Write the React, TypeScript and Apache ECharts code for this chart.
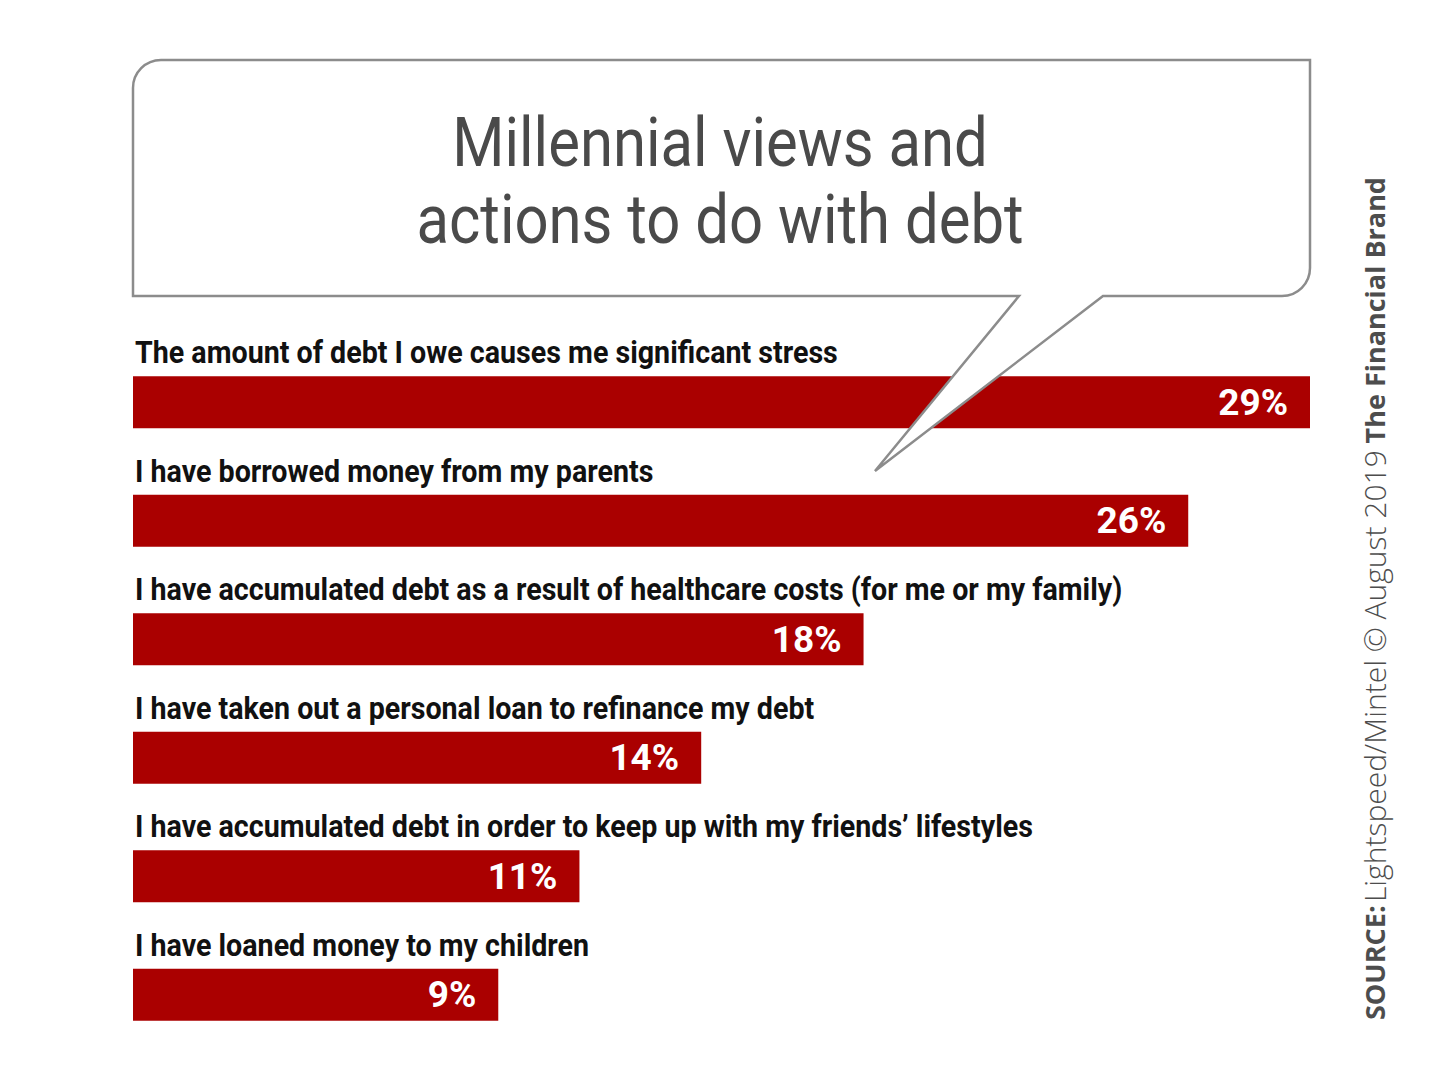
import React, { useEffect, useRef } from "react";
import * as echarts from "echarts";

const categories = [
  "The amount of debt I owe causes me significant stress",
  "I have borrowed money from my parents",
  "I have accumulated debt as a result of healthcare costs (for me or my family)",
  "I have taken out a personal loan to refinance my debt",
  "I have accumulated debt in order to keep up with my friends\u2019 lifestyles",
  "I have loaned money to my children",
];
const values = [29, 26, 18, 14, 11, 9];
const titleLines = ["Millennial views and", "actions to do with debt"];
const sourceBold = "SOURCE:";
const sourceText = "Lightspeed/Mintel \u00A9 August 2019";
const brandText = "The Financial Brand";

const BAR_COLOR = "#aa0000";

function measure(text: string, font: string): number {
  const c = document.createElement("canvas").getContext("2d")!;
  c.font = font;
  return c.measureText(text).width;
}

const bubblePath =
  "M133,296 L133,88 A28,28 0 0 1 161,60 L1310,60 L1310,268 A28,28 0 0 1 1282,296 L1103,296 L875,471 L1019,296 Z";

export default function App() {
  const ref = useRef<HTMLDivElement>(null);
  useEffect(() => {
    if (!ref.current) return;
    try {
      echarts.graphic.registerShape("bubble", echarts.graphic.extendPath(bubblePath, {}) as any);
    } catch (e) {}
    const chart = echarts.init(ref.current, null, { renderer: "svg" });
    chart.setOption({
      animation: false,
      backgroundColor: "#ffffff",
      grid: { left: 133, right: 139, top: 343, bottom: 26, containLabel: false },
      xAxis: { type: "value", min: 0, max: 29, show: false },
      yAxis: { type: "category", data: categories, inverse: true, show: false },
      series: [
        {
          type: "bar",
          data: values,
          barWidth: 52,
          itemStyle: { color: BAR_COLOR },
          label: {
            show: true,
            position: "insideRight",
            distance: 22,
            formatter: "{c}%",
            color: "#ffffff",
            fontFamily: "Roboto",
            fontWeight: "bold",
            fontSize: 37,
          },
        },
      ],
    });

    const labelFont = "bold 32px Roboto";
    const labelScale = 703 / measure(categories[0], labelFont);
    const titleFont = "400 68px Roboto";
    const titleScale = 607 / measure(titleLines[1], titleFont);

    const graphics: any[] = [];
    categories.forEach((c) => {
      const yc = chart.convertToPixel({ yAxisIndex: 0 }, c) as number;
      graphics.push({
        type: "text",
        x: 135,
        y: yc - 50,
        scaleX: labelScale,
        z: 50,
        style: {
          text: c,
          fill: "#111111",
          font: labelFont,
          align: "left",
          verticalAlign: "middle",
        },
      });
    });
    graphics.push({
      type: "bubble",
      x: 0,
      y: 0,
      z: 100,
      style: { fill: "#ffffff", stroke: "#8c8c8c", lineWidth: 2.5, lineJoin: "miter" },
    });
    titleLines.forEach((t, i) => {
      graphics.push({
        type: "text",
        x: 720,
        y: 143 + i * 77,
        scaleX: titleScale,
        z: 101,
        style: {
          text: t,
          fill: "#4a4a4a",
          font: titleFont,
          align: "center",
          verticalAlign: "middle",
        },
      });
    });
    graphics.push({
      type: "text",
      x: 1374,
      y: 1020,
      rotation: Math.PI / 2,
      z: 101,
      style: {
        text: `{b|${sourceBold}} {r|${sourceText}}  {b|${brandText}}`,
        align: "left",
        verticalAlign: "middle",
        rich: {
          b: { fontFamily: "Open Sans", fontWeight: "bold", fontSize: 27, fill: "#4d4d4d" },
          r: { fontFamily: "Open Sans", fontWeight: 300, fontSize: 30, fill: "#4d4d4d" },
        },
      },
    });
    chart.setOption({ graphic: graphics });

    return () => chart.dispose();
  }, []);
  return <div ref={ref} style={{ width: 1449, height: 1080, margin: -8 }} />;
}
